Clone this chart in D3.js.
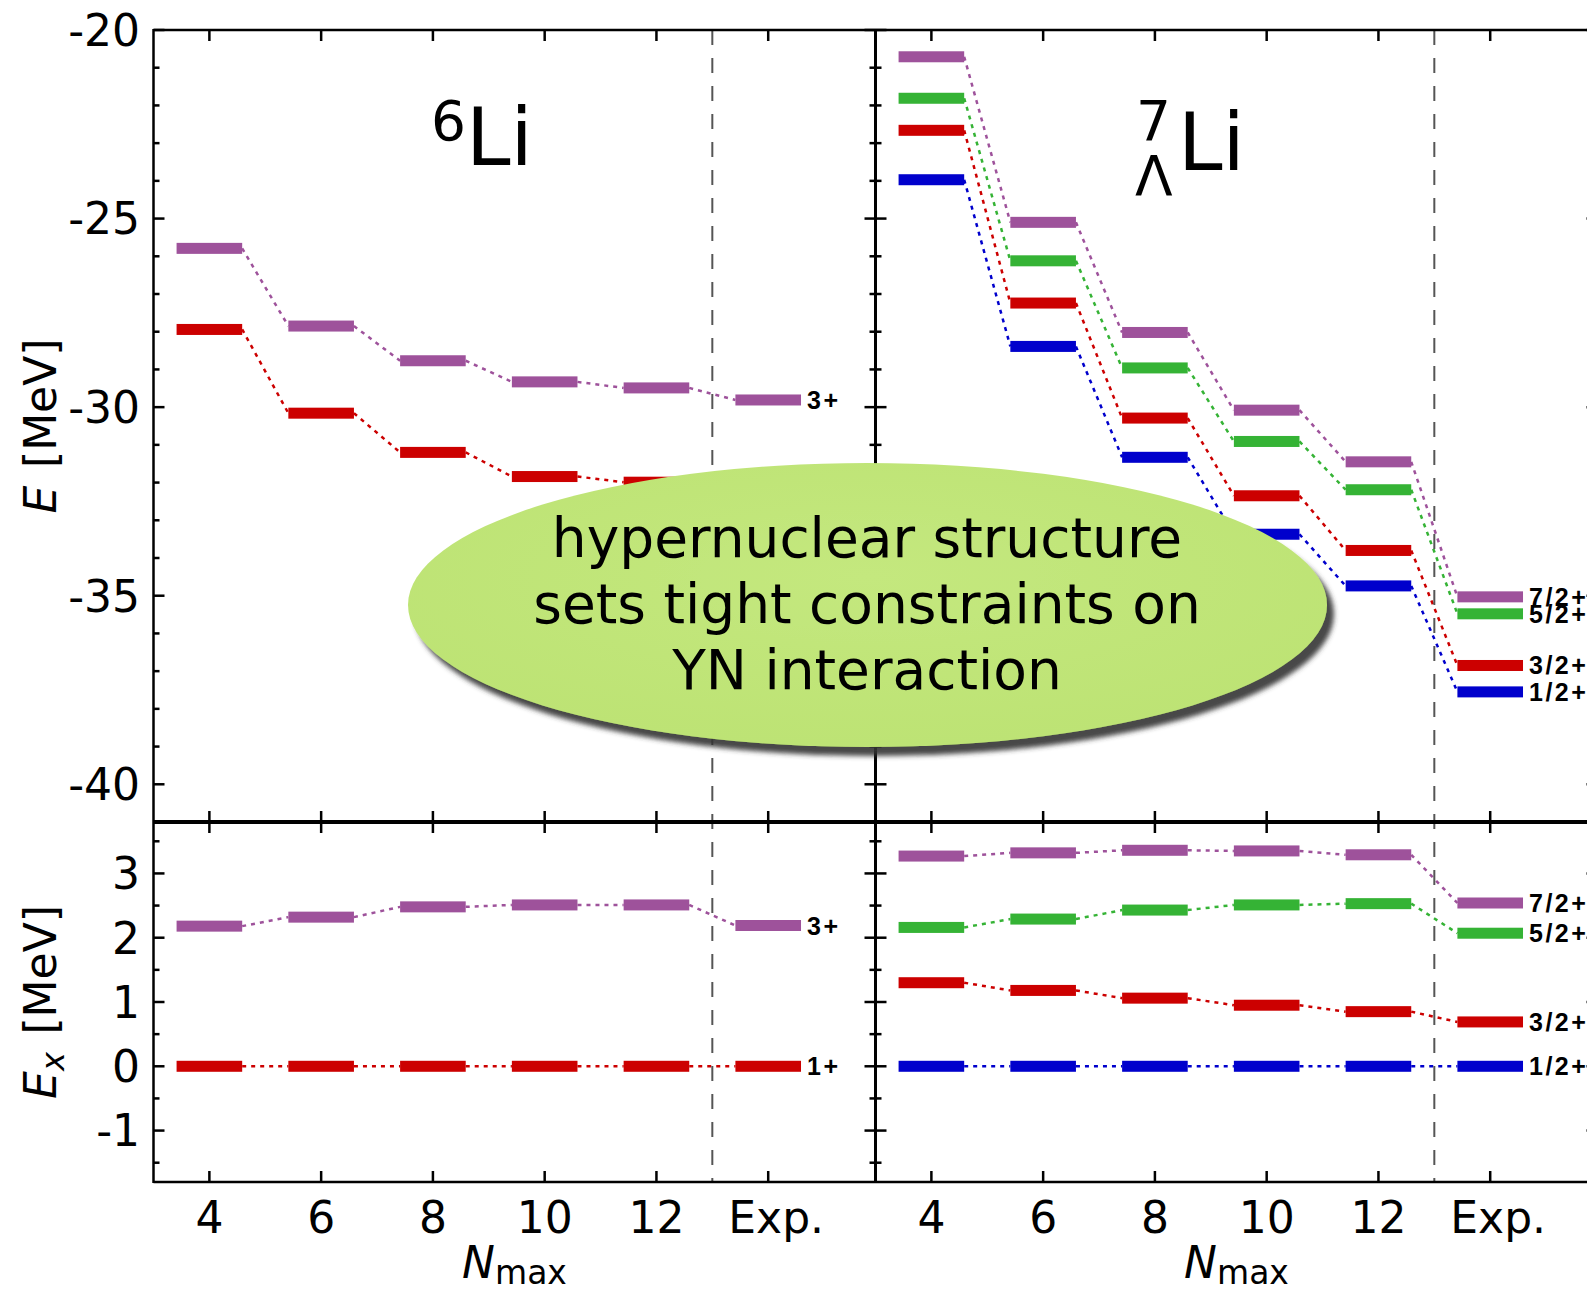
<!DOCTYPE html>
<html>
<head>
<meta charset="utf-8">
<script src="https://cdn.jsdelivr.net/npm/d3@7/dist/d3.min.js"></script>
<style>
  body { margin: 0; background: #fff; }
  svg { display: block; font-family: "DejaVu Sans", sans-serif; }
</style>
</head>
<body>
<div id="chart"></div>
<script>
// x positions (Nmax), last one is experiment
const xTicks = [4, 6, 8, 10, 12, 14];
const xTickLabels = ["4", "6", "8", "10", "12", "Exp."];

// 6Li total energies [MeV]
const li6_3p = [-25.79, -27.85, -28.77, -29.33, -29.49, -29.81];
const li6_1p = [-27.94, -30.16, -31.20, -31.84, -31.99, -31.99];
// 6Li excitation energies
const li6Ex_3p = [2.18, 2.32, 2.48, 2.51, 2.51, 2.19];
const li6Ex_1p = [0, 0, 0, 0, 0, 0];

// 7/Lambda Li total energies
const hyp_72 = [-20.71, -25.10, -28.02, -30.08, -31.45, -35.03];
const hyp_52 = [-21.81, -26.12, -28.96, -30.91, -32.19, -35.48];
const hyp_32 = [-22.66, -27.24, -30.29, -32.35, -33.80, -36.85];
const hyp_12 = [-23.97, -28.39, -31.33, -33.37, -34.74, -37.55];
// 7/Lambda Li excitation energies
const hypEx_72 = [3.27, 3.32, 3.36, 3.35, 3.29, 2.54];
const hypEx_52 = [2.16, 2.29, 2.43, 2.51, 2.53, 2.07];
const hypEx_32 = [1.30, 1.18, 1.06, 0.95, 0.85, 0.69];
const hypEx_12 = [0, 0, 0, 0, 0, 0];

const purple = "#9e529b", green = "#35b335", red = "#cc0000", blue = "#0000cc";

const width = 1587, height = 1295;
const svg = d3.select("#chart").append("svg")
    .attr("width", width).attr("height", height);

const defs = svg.append("defs");
const sh = defs.append("filter").attr("id", "shadow")
    .attr("x", "-10%").attr("y", "-20%").attr("width", "125%").attr("height", "150%");
sh.append("feGaussianBlur").attr("in", "SourceAlpha").attr("stdDeviation", 2.5).attr("result", "b");
sh.append("feOffset").attr("in", "b").attr("dx", 7).attr("dy", 9).attr("result", "o");
sh.append("feFlood").attr("flood-color", "#333").attr("flood-opacity", 0.9);
sh.append("feComposite").attr("in2", "o").attr("operator", "in").attr("result", "s");
const merge = sh.append("feMerge");
merge.append("feMergeNode").attr("in", "s");
merge.append("feMergeNode").attr("in", "SourceGraphic");

const grad = defs.append("radialGradient").attr("id", "ellgrad")
    .attr("cx", "50%").attr("cy", "40%").attr("r", "60%");
grad.append("stop").attr("offset", "0%").attr("stop-color", "#c4e87e");
grad.append("stop").attr("offset", "100%").attr("stop-color", "#bde374");

const yTop = d3.scaleLinear().domain([-41, -20]).range([822, 30]);
const yBot = d3.scaleLinear().domain([-1.8, 3.8]).range([1182, 822]);

const panels = [
  { x: d3.scaleLinear().domain([3, 15.92]).range([153.5, 875.5]),
    top: [[li6_3p, purple, "3+"], [li6_1p, red, null]],
    bot: [[li6Ex_3p, purple, "3+"], [li6Ex_1p, red, "1+"]] },
  { x: d3.scaleLinear().domain([3, 15.92]).range([875.5, 1597.5]),
    top: [[hyp_72, purple, "7/2+"], [hyp_52, green, "5/2+"], [hyp_32, red, "3/2+"], [hyp_12, blue, "1/2+"]],
    bot: [[hypEx_72, purple, "7/2+"], [hypEx_52, green, "5/2+"], [hypEx_32, red, "3/2+"], [hypEx_12, blue, "1/2+"]] }
];

const halfW = 0.587;

function drawLevels(g, x, y, sets) {
  sets.forEach(([vals, color, label]) => {
    // dotted connectors
    for (let i = 0; i < vals.length - 1; i++) {
      g.append("line")
        .attr("x1", x(xTicks[i] + halfW)).attr("y1", y(vals[i]))
        .attr("x2", x(xTicks[i + 1] - halfW)).attr("y2", y(vals[i + 1]))
        .attr("stroke", color).attr("stroke-width", 2.5)
        .attr("stroke-dasharray", "4,5");
    }
    g.selectAll(null).data(vals).enter().append("rect")
      .attr("x", (d, i) => x(xTicks[i] - halfW))
      .attr("y", d => y(d) - 5.5)
      .attr("width", x(xTicks[0] + halfW) - x(xTicks[0] - halfW))
      .attr("height", 11)
      .attr("fill", color);
    if (label) {
      g.append("text")
        .attr("x", x(14 + halfW) + 6).attr("y", y(vals[vals.length - 1]))
        .attr("dy", "0.36em")
        .attr("font-family", "Liberation Sans, Arial, sans-serif")
        .attr("font-weight", "bold").attr("font-size", 25)
        .attr("letter-spacing", 2.5)
        .text(label);
    }
  });
}

function yTicks(g, xPos, y, majors, minors, dir, labels) {
  minors.forEach(v => {
    g.append("line").attr("x1", xPos - (dir === 0 ? 6 : 0)).attr("x2", xPos + (dir === 0 ? 6 : dir * 6))
      .attr("y1", y(v)).attr("y2", y(v)).attr("stroke", "#000").attr("stroke-width", 2.5);
  });
  majors.forEach(v => {
    g.append("line").attr("x1", xPos - (dir === 0 ? 11 : 0)).attr("x2", xPos + (dir === 0 ? 11 : dir * 11))
      .attr("y1", y(v)).attr("y2", y(v)).attr("stroke", "#000").attr("stroke-width", 2.5);
  });
  if (labels) {
    majors.forEach(v => {
      g.append("text").attr("x", 140).attr("y", y(v)).attr("dy", "0.36em")
        .attr("text-anchor", "end").attr("font-size", 44).text(v);
    });
  }
}

const g = svg.append("g");

panels.forEach((p, pi) => {
  drawLevels(g, p.x, yTop, p.top);
  drawLevels(g, p.x, yBot, p.bot);
  // dashed separator before Exp.
  g.append("line").attr("x1", p.x(13)).attr("x2", p.x(13)).attr("y1", 30).attr("y2", 1182)
    .attr("stroke", "#555").attr("stroke-width", 2).attr("stroke-dasharray", "15,13");
  // x ticks
  xTicks.forEach((t, i) => {
    const xx = p.x(t);
    g.append("line").attr("x1", xx).attr("x2", xx).attr("y1", 30).attr("y2", 41)
      .attr("stroke", "#000").attr("stroke-width", 2.5);
    g.append("line").attr("x1", xx).attr("x2", xx).attr("y1", 811).attr("y2", 833)
      .attr("stroke", "#000").attr("stroke-width", 2.5);
    g.append("line").attr("x1", xx).attr("x2", xx).attr("y1", 1171).attr("y2", 1182)
      .attr("stroke", "#000").attr("stroke-width", 2.5);
    g.append("text").attr("x", xx + (t === 14 ? 8 : 0)).attr("y", 1233).attr("text-anchor", "middle")
      .attr("font-size", 44).text(xTickLabels[i]);
  });
  // N_max label
  const cx = (p.x.range()[0] + p.x.range()[1]) / 2;
  const nl = g.append("text").attr("x", cx).attr("y", 1278).attr("text-anchor", "middle")
    .attr("font-size", 44);
  nl.append("tspan").attr("font-style", "italic").text("N");
  nl.append("tspan").attr("font-size", 33).attr("dy", 6).text("max");
});

// y axis ticks
const topMaj = [-20, -25, -30, -35, -40];
const topMin = d3.range(-41, -19).filter(v => v % 5 !== 0);
const botMaj = [3, 2, 1, 0, -1];
const botMin = [3.5, 2.5, 1.5, 0.5, -0.5, -1.5];
yTicks(g, 153.5, yTop, topMaj, topMin, 1, true);
yTicks(g, 153.5, yBot, botMaj, botMin, 1, true);
yTicks(g, 1597.5, yTop, topMaj, topMin, -1, false);
yTicks(g, 1597.5, yBot, botMaj, botMin, -1, false);

// frame lines
g.append("line").attr("x1", 153.5).attr("x2", 1600).attr("y1", 30).attr("y2", 30).attr("stroke", "#000").attr("stroke-width", 2.5);
g.append("line").attr("x1", 153.5).attr("x2", 1600).attr("y1", 822).attr("y2", 822).attr("stroke", "#000").attr("stroke-width", 4);
g.append("line").attr("x1", 153.5).attr("x2", 1600).attr("y1", 1182).attr("y2", 1182).attr("stroke", "#000").attr("stroke-width", 2.5);
g.append("line").attr("x1", 153.5).attr("x2", 153.5).attr("y1", 29).attr("y2", 1183).attr("stroke", "#000").attr("stroke-width", 2.5);
g.append("line").attr("x1", 1597.5).attr("x2", 1597.5).attr("y1", 29).attr("y2", 1183).attr("stroke", "#000").attr("stroke-width", 2.5);
// middle axis with two-sided ticks
g.append("line").attr("x1", 875.5).attr("x2", 875.5).attr("y1", 29).attr("y2", 1183).attr("stroke", "#000").attr("stroke-width", 3);
yTicks(g, 875.5, yTop, topMaj, topMin, 0, false);
yTicks(g, 875.5, yBot, botMaj, botMin, 0, false);

// y axis titles
const yl1 = g.append("text").attr("transform", "translate(56,426) rotate(-90)")
  .attr("text-anchor", "middle").attr("font-size", 44);
yl1.append("tspan").attr("font-style", "italic").text("E");
yl1.append("tspan").text("\u2009\u2009[MeV]");
const yl2 = g.append("text").attr("transform", "translate(56,1002) rotate(-90)")
  .attr("text-anchor", "middle").attr("font-size", 44);
yl2.append("tspan").attr("font-style", "italic").text("E");
yl2.append("tspan").attr("font-style", "italic").attr("font-size", 32).attr("dy", 8).text("x");
yl2.append("tspan").attr("dy", -8).text("\u2009\u2009[MeV]");

// panel titles
g.append("text").attr("x", 431).attr("y", 140).attr("font-size", 55).text("6");
g.append("text").attr("x", 466).attr("y", 165).attr("font-size", 80).text("Li");
g.append("text").attr("x", 1136).attr("y", 140).attr("font-size", 55).text("7");
g.append("text").attr("x", 1135).attr("y", 195).attr("font-size", 55).text("\u039B");
g.append("text").attr("x", 1178).attr("y", 170).attr("font-size", 80).text("Li");

// callout ellipse
const callout = svg.append("g");
callout.append("ellipse")
  .attr("cx", 867.5).attr("cy", 605).attr("rx", 459.5).attr("ry", 142)
  .attr("fill", "url(#ellgrad)").attr("filter", "url(#shadow)");
const lines = ["hypernuclear structure", "sets tight constraints on", "YN interaction"];
callout.selectAll("text.msg").data(lines).enter().append("text")
  .attr("class", "msg")
  .attr("x", 867).attr("y", (d, i) => 557 + i * 66)
  .attr("text-anchor", "middle").attr("font-size", 55).attr("fill", "#000")
  .text(d => d);
</script>
</body>
</html>
